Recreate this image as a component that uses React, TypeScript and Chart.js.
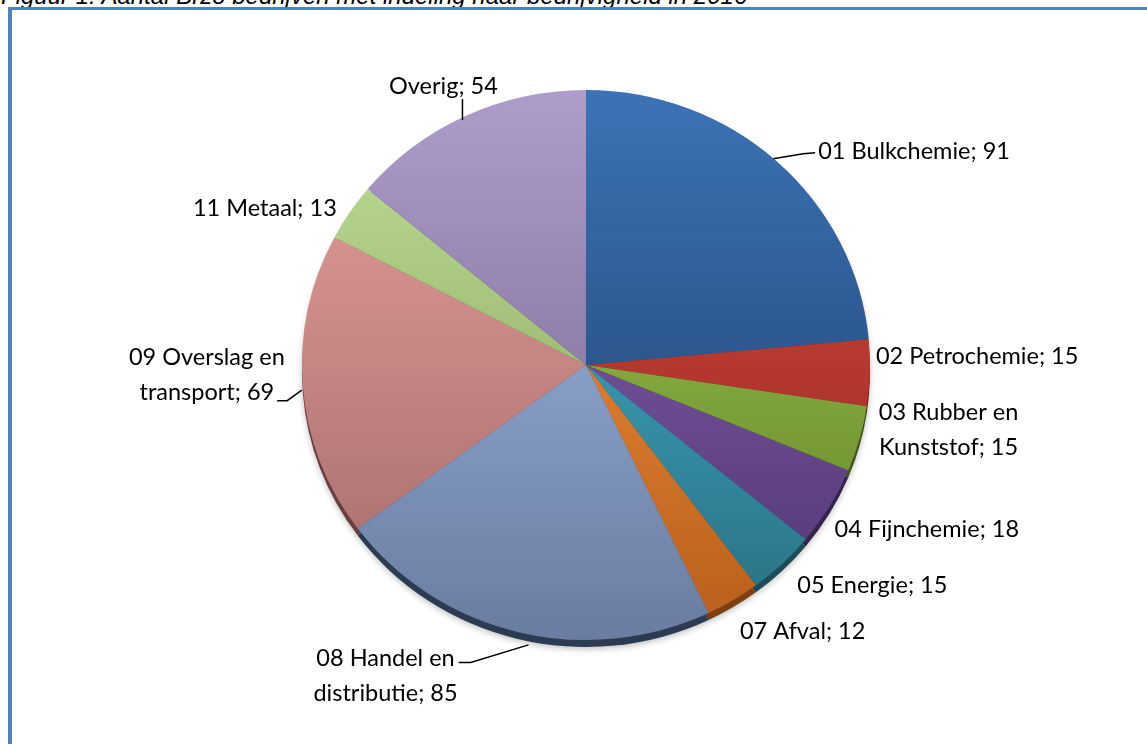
import React, { useEffect, useRef } from "react";
import { Chart, registerables } from "chart.js";
Chart.register(...registerables);

const TITLE = "Figuur 1: Aantal Brzo bedrijven met indeling naar bedrijvigheid in 2016";

const categories = [
  "01 Bulkchemie",
  "02 Petrochemie",
  "03 Rubber en Kunststof",
  "04 Fijnchemie",
  "05 Energie",
  "07 Afval",
  "08 Handel en distributie",
  "09 Overslag en transport",
  "11 Metaal",
  "Overig",
];
const values = [91, 15, 15, 18, 15, 12, 85, 69, 13, 54];

// gradient colours (top of pie -> bottom of pie) and depth colour per slice
const topColors = ["#3D73B6", "#E04A3E", "#A8D050", "#8E68B8", "#48BCD8", "#FF9A40", "#A4C0EE", "#E8A09C", "#C4E09A", "#AE9CCB"];
const bottomColors = ["#1B3A66", "#8A2620", "#5E7E2A", "#4E3470", "#286E80", "#B85E1C", "#6A7CA0", "#A06A6A", "#7A9A55", "#6F6086"];
const depthColors = ["#1B3456", "#5E1A16", "#40561C", "#36244E", "#1C4C58", "#7E4012", "#2C3A52", "#6A3E3E", "#55703A", "#4A3E5C"];

// label layout relative to the slice's outer mid point
const labelLayout = [
  { dx: 41, dy: -10, align: "left", leader: "left" },
  { dx: 6, dy: -16, align: "left" },
  { dx: 89, dy: -9, align: "center", wrap: 3 },
  { dx: 5, dy: 23, align: "left" },
  { dx: 15, dy: 22, align: "left" },
  { dx: 7, dy: 31, align: "left" },
  { dx: -132, dy: 44, align: "center", wrap: 3, leader: "firstRight" },
  { dx: -96, dy: -11, align: "center", wrap: 3, leader: "lastRight" },
  { dx: -13, dy: -4, align: "right" },
  { dx: -22, dy: -30, align: "center", leader: "bottom" },
];

const FONT = "23.5px Lato";
const LINE_H = 35;
const DEPTH = 7;
const SX = 284 / 275; // horizontal stretch of the tilted pie

const piePlugin = {
  id: "pie3d",
  beforeDatasetsDraw(chart: any) {
    const c = chart.ctx;
    const meta = chart.getDatasetMeta(0);
    const first = meta.data[0];
    const cx = first ? first.x : 0;
    c.save();
    c.translate(cx, 0);
    c.scale(SX, 1);
    c.translate(-cx, 0);
    c.save();
    meta.data.forEach((arc: any, i: number) => {
      const p = arc.getProps(["x", "y", "startAngle", "endAngle", "outerRadius"], true);
      c.beginPath();
      c.moveTo(p.x, p.y + DEPTH);
      c.arc(p.x, p.y + DEPTH, p.outerRadius, p.startAngle, p.endAngle);
      c.closePath();
      c.fillStyle = depthColors[i];
      c.shadowColor = "rgba(0,0,0,0.25)";
      c.shadowBlur = 6;
      c.shadowOffsetY = 2;
      c.fill();
    });
    c.restore();
  },
  afterDatasetsDraw(chart: any) {
    const c = chart.ctx;
    c.restore();
    const meta = chart.getDatasetMeta(0);
    c.save();
    c.font = FONT;
    c.fillStyle = "#000";
    c.strokeStyle = "#000";
    c.lineWidth = 1.5;
    c.textBaseline = "middle";
    meta.data.forEach((arc: any, i: number) => {
      const p = arc.getProps(["x", "y", "startAngle", "endAngle", "outerRadius"], true);
      const mid = (p.startAngle + p.endAngle) / 2;
      const px = p.x + Math.cos(mid) * p.outerRadius * SX;
      const py = p.y + Math.sin(mid) * p.outerRadius;
      const L: any = labelLayout[i];
      const words = `${categories[i]}; ${values[i]}`.split(" ");
      const lines = L.wrap ? [words.slice(0, L.wrap).join(" "), words.slice(L.wrap).join(" ")] : [words.join(" ")];
      const tx = px + L.dx;
      const ty = py + L.dy;
      c.textAlign = L.align;
      const ys = lines.map((_, k) => ty + (k - (lines.length - 1) / 2) * LINE_H);
      lines.forEach((ln, k) => c.fillText(ln, tx, ys[k]));
      const rightOf = (k: number) => {
        const w = c.measureText(lines[k]).width;
        if (L.align === "left") return tx + w;
        if (L.align === "right") return tx;
        return tx + w / 2;
      };
      if (L.leader) {
        c.beginPath();
        if (L.leader === "left") {
          c.moveTo(px - 4, py - 3);
          c.lineTo(tx - 15, ys[0] + 2);
          c.lineTo(tx - 3, ys[0] + 1);
        } else if (L.leader === "firstRight") {
          const ex = rightOf(0) + 4;
          c.moveTo(px + 11, py + DEPTH + 6);
          c.lineTo(ex + 12, ys[0] + 4);
          c.lineTo(ex, ys[0] + 4);
        } else if (L.leader === "lastRight") {
          const ex = rightOf(lines.length - 1) + 3;
          c.moveTo(ex, ys[lines.length - 1] + 8);
          c.lineTo(ex + 10, ys[lines.length - 1] + 8);
          c.lineTo(px - 1, py + 4);
        } else if (L.leader === "bottom") {
          c.moveTo(px - 3, py + 4);
          c.lineTo(px - 3, ys[0] + 13);
        }
        c.stroke();
      }
    });
    c.restore();
  },
};

export default function App() {
  const ref = useRef<HTMLCanvasElement>(null);
  useEffect(() => {
    if (!ref.current) return;
    const chart = new Chart(ref.current, {
      type: "pie",
      data: {
        labels: categories,
        datasets: [
          {
            data: values,
            backgroundColor: (ctx: any) => {
              const i = ctx.dataIndex ?? 0;
              const ch = ctx.chart;
              const area = ch.chartArea;
              if (!area) return topColors[i];
              const g = ch.ctx.createLinearGradient(0, area.top, 0, area.bottom);
              g.addColorStop(0, topColors[i]);
              g.addColorStop(1, bottomColors[i]);
              return g;
            },
            borderWidth: 0,
          },
        ],
      },
      options: {
        responsive: false,
        animation: false,
        layout: { padding: { top: 90, bottom: 104, left: 300, right: 275 } },
        plugins: { legend: { display: false }, tooltip: { enabled: false } },
      },
      plugins: [piePlugin],
    });
    return () => chart.destroy();
  }, []);

  return (
    <div style={{ position: "absolute", left: 0, top: 0, width: 1147, height: 744, overflow: "hidden", background: "#fff" }}>
      <div
        style={{
          position: "absolute",
          left: 1,
          top: -16,
          fontFamily: "'Liberation Sans', Arial, sans-serif",
          fontStyle: "italic",
          fontSize: 24,
          lineHeight: "24px",
          whiteSpace: "nowrap",
          color: "#000",
        }}
      >
        {TITLE}
      </div>
      <div
        style={{
          position: "absolute",
          left: 8,
          top: 7,
          width: 1200,
          height: 800,
          borderTop: "3px solid #4F81BD",
          borderLeft: "4px solid #4F81BD",
          boxSizing: "border-box",
        }}
      />
      <canvas ref={ref} width={1147} height={744} style={{ position: "absolute", left: 0, top: 0 }} />
    </div>
  );
}
